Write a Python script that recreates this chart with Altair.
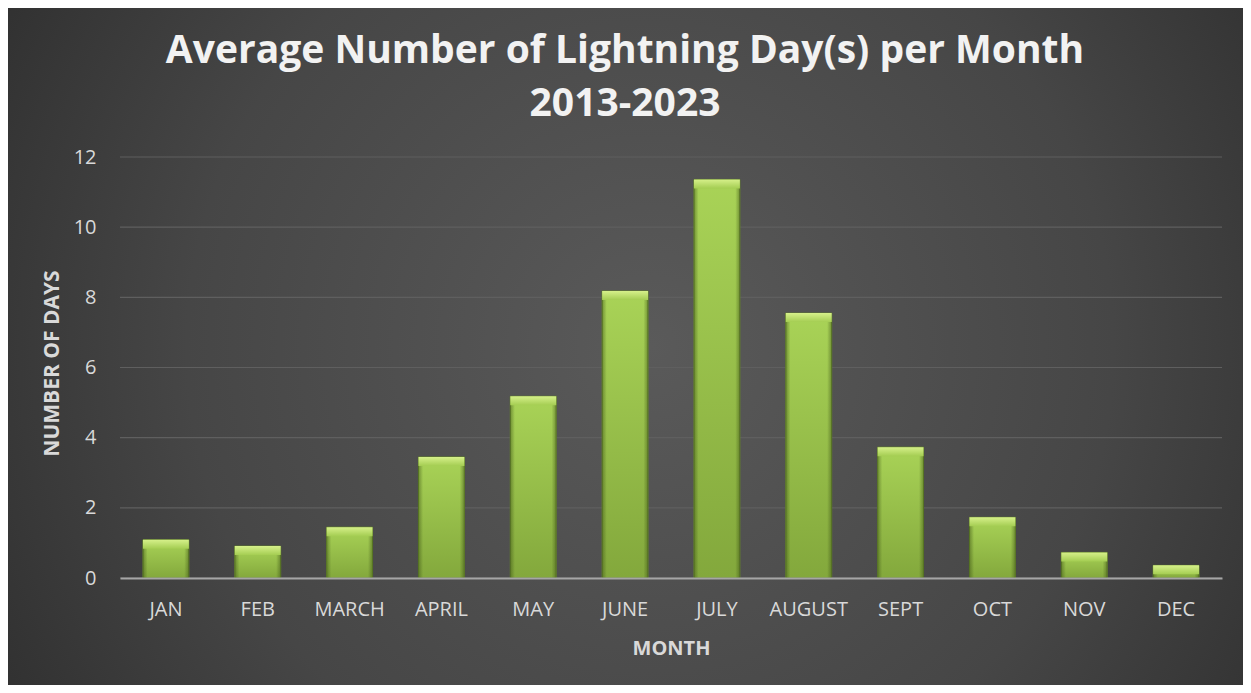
import altair as alt
import pandas as pd

months = ["JAN", "FEB", "MARCH", "APRIL", "MAY", "JUNE", "JULY", "AUGUST", "SEPT", "OCT", "NOV", "DEC"]
avg_days = [1.09, 0.91, 1.45, 3.45, 5.18, 8.18, 11.36, 7.55, 3.73, 1.73, 0.73, 0.36]
y_ticks = [0, 2, 4, 6, 8, 10, 12]
title_lines = ["Average Number of Lightning Day(s) per Month", "2013-2023"]

W, H = 1102, 421
PAD = {"left": 112, "top": 149, "right": 21, "bottom": 107}

df = pd.DataFrame({"month": months, "days": avg_days})
grid_df = pd.DataFrame({"tick": y_ticks})

yscale = alt.Scale(domain=[0, 12], nice=False)
xscale = alt.Scale(paddingInner=0.5, paddingOuter=0.25)

y_axis = alt.Axis(
    values=y_ticks, title="NUMBER OF DAYS", grid=False, domain=False,
    ticks=False, labelPadding=24, labelFont="Open Sans", labelFontSize=20,
    labelColor="#d9d9d9", titleFont="Open Sans", titleFontSize=21,
    titleFontWeight="bold", titleColor="#d9d9d9", titleX=-68, titleY=206,
    titleAngle=270, titleBaseline="middle", titleAlign="center", zindex=1,
)
x_axis = alt.Axis(
    title="MONTH", labelAngle=0, labelFont="Open Sans", labelFontSize=20,
    labelColor="#d9d9d9", labelPadding=21, ticks=False,
    domainColor="#a6a6a6", domainWidth=2,
    titleFont="Open Sans", titleFontSize=20, titleFontWeight="bold",
    titleColor="#d9d9d9", titleX=W / 2, titleY=70,
    titleBaseline="middle", titleAlign="center", zindex=1,
)

bg_fill = {
    "gradient": "radial",
    "x1": 0.52, "y1": 0.5, "r1": 0,
    "x2": 0.52, "y2": 0.5, "r2": 0.75,
    "stops": [
        {"offset": 0, "color": "#5a5a5a"},
        {"offset": 0.5, "color": "#464646"},
        {"offset": 1, "color": "#222222"},
    ],
}

bg = alt.Chart(alt.Data(values=[{"a": 1}])).mark_rect(fill=bg_fill).encode(
    x=alt.value(-PAD["left"]),
    x2=alt.value(W + PAD["right"]),
    y=alt.value(-PAD["top"]),
    y2=alt.value(H + PAD["bottom"]),
)

grid = alt.Chart(grid_df).mark_rule(color="#5f5f5f", strokeWidth=1.2).encode(
    y=alt.Y("tick:Q", scale=yscale, axis=y_axis),
    x=alt.value(0),
    x2=alt.value(W),
)

bar_fill = {
    "gradient": "linear", "x1": 0, "y1": 0, "x2": 0, "y2": 1,
    "stops": [
        {"offset": 0, "color": "#a9d357"},
        {"offset": 1, "color": "#83a83c"},
    ],
}
bars = alt.Chart(df).mark_bar(fill=bar_fill, stroke="#62822a", strokeWidth=1).encode(
    x=alt.X("month:N", sort=months, scale=xscale, axis=x_axis),
    y=alt.Y("days:Q", scale=yscale, axis=y_axis),
)

side_fill = {
    "gradient": "linear", "x1": 0, "y1": 0, "x2": 1, "y2": 0,
    "stops": [
        {"offset": 0, "color": "rgba(50,70,15,0.45)"},
        {"offset": 0.1, "color": "rgba(50,70,15,0)"},
        {"offset": 0.9, "color": "rgba(50,70,15,0)"},
        {"offset": 1, "color": "rgba(50,70,15,0.45)"},
    ],
}
sides = alt.Chart(df).mark_bar(fill=side_fill).encode(
    x=alt.X("month:N", sort=months, scale=xscale, axis=x_axis),
    y=alt.Y("days:Q", scale=yscale, axis=y_axis),
)

bevel_fill = {
    "gradient": "linear", "x1": 0, "y1": 0, "x2": 0, "y2": 1,
    "stops": [
        {"offset": 0, "color": "#d6f08a"},
        {"offset": 1, "color": "#a4cd52"},
    ],
}
bevel = alt.Chart(df).mark_bar(fill=bevel_fill, y2Offset=9).encode(
    x=alt.X("month:N", sort=months, scale=xscale, axis=x_axis),
    y=alt.Y("days:Q", scale=yscale, axis=y_axis),
    y2=alt.Y2("days"),
)

chart = alt.layer(bg, grid, bars, sides, bevel).properties(
    width=W, height=H,
    padding=PAD,
    autosize=alt.AutoSizeParams(type="none"),
    title=alt.TitleParams(
        text=title_lines, font="Open Sans", fontSize=39, fontWeight="bold",
        color="#f2f2f2", anchor="middle", frame="group", dx=-46, lineHeight=53,
        baseline="top", offset=-116,
    ),
).configure(background="#2a2a2a").configure_view(stroke=None)

chart.save("out.html", embed_options={"renderer": "svg", "actions": False})
